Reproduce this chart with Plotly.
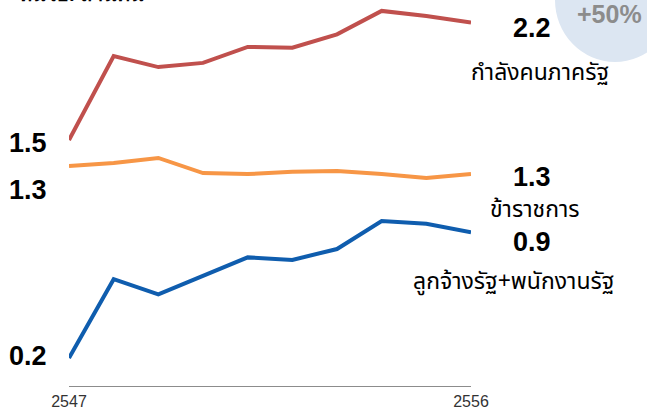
import plotly.graph_objects as go

years = list(range(2547, 2557))
total = [1.50, 2.00, 1.935, 1.96, 2.055, 2.05, 2.13, 2.27, 2.24, 2.20]
civil = [1.345, 1.363, 1.393, 1.303, 1.297, 1.31, 1.315, 1.297, 1.273, 1.297]
employees = [0.20, 0.67, 0.58, 0.69, 0.80, 0.785, 0.85, 1.017, 1.00, 0.95]

names = ["กำลังคนภาครัฐ", "ข้าราชการ", "ลูกจ้างรัฐ+พนักงานรัฐ"]
start_labels = ["1.5", "1.3", "0.2"]
end_labels = ["2.2", "1.3", "0.9"]
tick_labels = ["2547", "2556"]
unit_title = "หน่วย: ล้านคน"
growth_label = "+50%"

colors = ["#C0504D", "#F79646", "#0F5DAE"]

W, H = 647, 412
L, R, T, B = 69, 176, 0, 26
PW, PH = W - L - R, H - T - B

def px(x):
    return (x - L) / PW

def py(y):
    return (H - B - y) / PH

fig = go.Figure()
for vals, c in zip([total, civil, employees], colors):
    fig.add_trace(go.Scatter(x=years, y=vals, mode="lines",
                             line=dict(color=c, width=4), cliponaxis=False,
                             hoverinfo="skip"))

# light blue ellipse top-right
fig.add_shape(type="circle", xref="paper", yref="paper",
              x0=px(555), x1=px(675), y0=py(62), y1=py(-62),
              fillcolor="#DCE6F2", line=dict(width=0), layer="below")

num_font = dict(family="Liberation Sans, Arial", size=27, color="#000000")
thai_font = dict(family="Noto Sans, Noto Sans Thai, sans-serif", size=23, color="#000000")

ann = []
for txt, y in zip(start_labels, [143, 190, 356]):
    ann.append(dict(text="<b>%s</b>" % txt, x=px(28), y=py(y), xref="paper", yref="paper",
                    showarrow=False, font=num_font, xanchor="center", yanchor="middle"))
for txt, y in zip(end_labels, [28, 177, 242]):
    ann.append(dict(text="<b>%s</b>" % txt, x=px(532), y=py(y), xref="paper", yref="paper",
                    showarrow=False, font=num_font, xanchor="center", yanchor="middle"))
for txt, x, y in zip(names, [540, 535, 513], [71, 208, 280]):
    ann.append(dict(text=txt, x=px(x), y=py(y), xref="paper", yref="paper",
                    showarrow=False, font=thai_font, xanchor="center", yanchor="middle"))
ann.append(dict(text="<b>%s</b>" % growth_label, x=px(609), y=py(14), xref="paper", yref="paper",
                showarrow=False, font=dict(family="Liberation Sans, Arial", size=25, color="#8C8C8C"),
                xanchor="center", yanchor="middle"))
ann.append(dict(text="<b>%s</b>" % unit_title, x=px(17), y=py(9), xref="paper", yref="paper",
                showarrow=False, font=dict(family="Noto Sans, sans-serif", size=20, color="#000000"),
                xanchor="left", yanchor="bottom"))

fig.update_layout(
    width=W, height=H,
    margin=dict(l=L, r=R, t=T, b=B),
    paper_bgcolor="white", plot_bgcolor="white",
    showlegend=False,
    annotations=ann,
    xaxis=dict(range=[2547, 2556], tickvals=[2547, 2556], ticktext=tick_labels,
               showgrid=False, zeroline=False, showline=True, linecolor="#8C8C8C",
               linewidth=1, ticks="", ticklabelstandoff=1,
               tickfont=dict(family="Liberation Sans, Arial", size=16, color="#333333"),
               fixedrange=True),
    yaxis=dict(range=[0.033, 2.335], visible=False, showgrid=False, zeroline=False, fixedrange=True),
)

fig.write_html("out.html", config={"displayModeBar": False},
               post_script="document.body.style.margin='0';document.body.style.padding='0';")
